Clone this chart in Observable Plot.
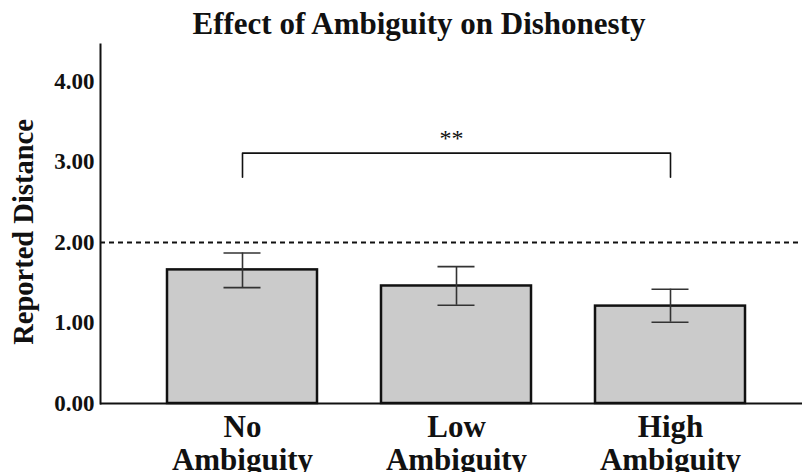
<!DOCTYPE html>
<html>
<head>
<meta charset="utf-8">
<script src="https://cdn.jsdelivr.net/npm/d3@7"></script>
<script src="https://cdn.jsdelivr.net/npm/@observablehq/plot@0.6"></script>
<style>
  body { margin: 0; background: #fff; }
  svg { overflow: visible; }
</style>
</head>
<body>
<div id="chart"></div>
<script>
const title = "Effect of Ambiguity on Dishonesty";
const yLabel = "Reported Distance";
const categories = ["No\nAmbiguity", "Low\nAmbiguity", "High\nAmbiguity"];
const means = [1.66, 1.46, 1.21];
const upper = [1.87, 1.70, 1.42];
const lower = [1.44, 1.22, 1.01];
const yTicks = [0, 1, 2, 3, 4];
const referenceValue = 2;
const bracketFrom = "No\nAmbiguity";
const bracketTo = "High\nAmbiguity";
const bracketTop = 3.11;
const bracketBottom = 2.81;
const sigLabel = "**";
const sigY = 3.3;

const rows = categories.map((c, i) => ({cat: c, mean: means[i], hi: upper[i], lo: lower[i]}));
const bracket = [
  {cat: bracketFrom, y: bracketBottom},
  {cat: bracketFrom, y: bracketTop},
  {cat: bracketTo, y: bracketTop},
  {cat: bracketTo, y: bracketBottom}
];

const serif = "'Liberation Serif', 'Times New Roman', serif";

const chart = Plot.plot({
  width: 802,
  height: 472,
  marginTop: 44,
  marginBottom: 69,
  marginLeft: 100,
  marginRight: 0,
  style: {fontFamily: serif, background: "white"},
  x: {domain: categories, range: [100, 812.7], paddingInner: 0.3, paddingOuter: 0.313, label: null},
  y: {domain: [0, 4.46], label: null},
  marks: [
    Plot.barY(rows, {x: "cat", y: "mean", fill: "#cbcbcb", stroke: "#111", strokeWidth: 2.5}),
    Plot.ruleX(rows, {x: "cat", y1: "lo", y2: "hi", stroke: "#333", strokeWidth: 1.6}),
    Plot.tickY(rows, {x: "cat", y: "hi", stroke: "#333", strokeWidth: 1.6, insetLeft: 56.5, insetRight: 56.5}),
    Plot.tickY(rows, {x: "cat", y: "lo", stroke: "#333", strokeWidth: 1.6, insetLeft: 56.5, insetRight: 56.5}),
    Plot.ruleY([referenceValue], {stroke: "#111", strokeWidth: 2, strokeDasharray: "5,4"}),
    Plot.ruleY([0], {stroke: "#111", strokeWidth: 2}),
    Plot.frame({anchor: "left", stroke: "#111", strokeWidth: 2}),
    Plot.line(bracket, {x: "cat", y: "y", stroke: "#111", strokeWidth: 1.6}),
    Plot.text([sigLabel], {y: () => sigY, frameAnchor: "top", textAnchor: "middle", lineAnchor: "middle", fontSize: 24, fill: "#111"}),
    Plot.axisY({ticks: yTicks, tickFormat: d3.format(".2f"), tickSize: 0, tickPadding: 6, fontSize: 23, fontWeight: "bold", fill: "#111", label: null}),
    Plot.axisX({tickSize: 0, tickPadding: 11, fontSize: 31, fontWeight: "bold", lineHeight: 1.04, fill: "#111", label: null}),
    Plot.text([yLabel], {frameAnchor: "left", textAnchor: "middle", lineAnchor: "middle", rotate: -90, dx: -77, dy: 8, fontSize: 28.5, fontWeight: "bold", fill: "#111"}),
    Plot.text([title], {frameAnchor: "top", textAnchor: "middle", lineAnchor: "middle", dx: -32.5, dy: -20, fontSize: 31, fontWeight: "bold", fill: "#111"})
  ]
});
document.getElementById("chart").appendChild(chart);
</script>
</body>
</html>
